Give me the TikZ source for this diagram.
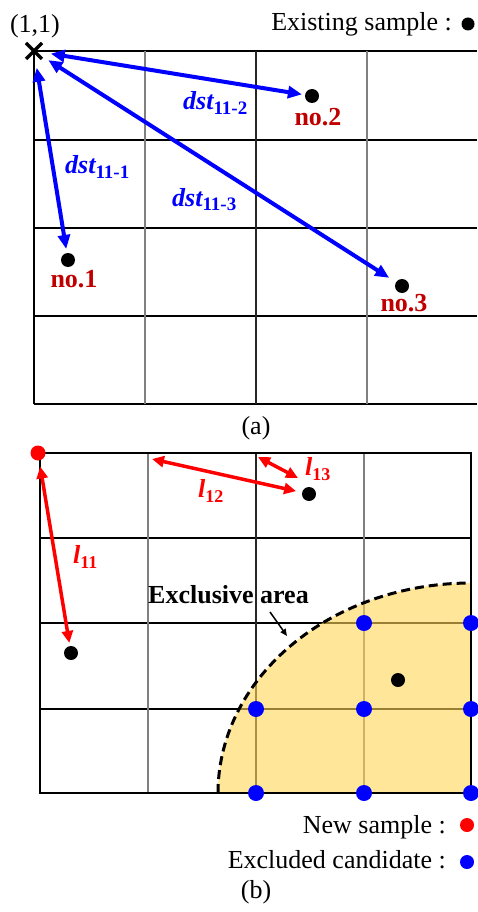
\documentclass[tikz,border=0pt]{standalone}
\usepackage{fontspec}
\setmainfont{Liberation Serif}
\usetikzlibrary{arrows.meta}
\definecolor{darkred}{RGB}{192,0,0}
\definecolor{areafill}{RGB}{255,213,85}
\definecolor{gridgrey}{RGB}{128,128,128}
\newcommand{\dstlabel}[1]{{\bfseries\itshape dst}\raisebox{-5pt}{\fontsize{19}{20}\selectfont\bfseries #1}}
\newcommand{\llabel}[1]{{\bfseries\itshape l}\raisebox{-5pt}{\fontsize{18}{20}\selectfont\bfseries #1}}
\begin{document}
\begin{tikzpicture}[x=1pt,y=-1pt,
  txt/.style={font=\fontsize{26}{30}\selectfont, inner sep=0pt},
  blk/.style={circle, fill=black, inner sep=0pt, minimum size=14pt},
  bdot/.style={circle, fill=blue, inner sep=0pt, minimum size=16pt},
  rdot/.style={circle, fill=red, inner sep=0pt, minimum size=15pt},
  thickgrid/.style={line width=2.5pt, black},
  midgrid/.style={line width=2pt, black!85},
  thingrid/.style={line width=2pt, gridgrey},
  bluearrow/.style={blue, line width=4pt, {Triangle[length=14pt,width=12pt]}-{Triangle[length=14pt,width=12pt]}},
  redarrow/.style={red, line width=3.5pt, {Triangle[length=12pt,width=11pt]}-{Triangle[length=12pt,width=11pt]}},
  dstlab/.style={txt, blue, anchor=base west},
  llab/.style={txt, red, anchor=base west},
  nolab/.style={txt, darkred, font=\fontsize{26}{30}\selectfont\bfseries, anchor=base},
]
\useasboundingbox (0,0) rectangle (477,912);
% ---------------- panel (a) ----------------
\foreach \y in {51,140,228,316,404} \draw[thickgrid] (34,\y) -- (477,\y);
\foreach \x in {145,367} \draw[thingrid] (\x,51) -- (\x,404);
\draw[midgrid] (256,51) -- (256,404);
\draw[thickgrid] (34,51) -- (34,404);
% X mark
\coordinate (o11) at (34,51);
\draw[line width=3.5pt] (26,43) -- (42,59) (26,59) -- (42,43);
\node[txt] (lab11) at (35,26) {(1,1)};
% samples
\node[blk] (a1) at (68,260) {};
\node[blk] (a2) at (312,96) {};
\node[blk] (a3) at (402,286) {};
\node[nolab] (n1) at (74,287) {no.1};
\node[nolab] (n2) at (318,126) {no.2};
\node[nolab] (n3) at (404,311) {no.3};
\draw[bluearrow, shorten <=17pt, shorten >=3pt] (o11) -- (a2);
\draw[bluearrow, shorten <=17pt, shorten >=4pt] (o11) -- (a1);
\draw[bluearrow, shorten <=17pt, shorten >=8pt] (o11) -- (a3);
\node[dstlab] (d2) at (183,110) {\dstlabel{11-2}};
\node[dstlab] (d1) at (65,174) {\dstlabel{11-1}};
\node[dstlab] (d3) at (172,206) {\dstlabel{11-3}};
% legend
\node[txt, anchor=base east] (exist) at (452,31) {Existing sample :};
\node[blk, minimum size=13pt] (existdot) at (468,24) {};
\node[txt] (capa) at (256,428) {(a)};
% ---------------- panel (b) ----------------
\foreach \y in {453,538,623,709,793} \draw[thickgrid] (40,\y) -- (471,\y);
\foreach \x in {148,364} \draw[thingrid] (\x,453) -- (\x,793);
\draw[midgrid] (256,453) -- (256,793);
% exclusive area
\fill[areafill, opacity=0.6] plot[domain=180:270, samples=80] ({471+253*cos(\x)},{793+210*sin(\x)}) -- (471,793) -- cycle;
\draw[thickgrid] (40,453) rectangle (471,793);
\draw[line width=3pt, dash pattern=on 9pt off 5pt] plot[domain=180:270, samples=80] ({471+253*cos(\x)},{793+210*sin(\x)});
\node[txt, font=\fontsize{26}{30}\selectfont\bfseries, anchor=base west] (excl) at (148,603) {Exclusive area};
\coordinate (exa) at (270,612);
\coordinate (exb) at (287,636);
\draw[line width=1.5pt, -{Triangle[length=7pt,width=6pt]}] (exa) -- (exb);
% samples
\node[blk] (b1) at (71,653) {};
\node[blk] (b2) at (309,494) {};
\node[blk] (b3) at (398,680) {};
% excluded candidates
\foreach \p/\n in {{(364,623)}/c1,{(471,623)}/c2,{(256,709)}/c3,{(364,709)}/c4,{(471,709)}/c5,{(256,793)}/c6,{(364,793)}/c7,{(471,793)}/c8}
  \node[bdot] (\n) at \p {};
% new sample
\node[rdot] (new) at (38,453) {};
\coordinate (l12s) at (152,459);
\coordinate (l13s) at (258,457);
\coordinate (l13e) at (298,478);
\draw[redarrow, shorten <=6pt, shorten >=3pt] (new) -- (b1);
\draw[redarrow, shorten >=6pt] (l12s) -- (b2);
\draw[redarrow] (l13s) -- (l13e);
\node[llab] (t11) at (73,563) {\llabel{11}};
\node[llab] (t12) at (198,497) {\llabel{12}};
\node[llab] (t13) at (305,475) {\llabel{13}};
% legend
\node[txt, anchor=base east] (newlab) at (446,833) {New sample :};
\node[rdot, minimum size=14pt] (newdot) at (467,825) {};
\node[txt, anchor=base east] (exlab) at (446,868) {Excluded candidate :};
\node[bdot, minimum size=14pt] (exdot) at (467,862) {};
\node[txt] (capb) at (256,892) {(b)};
\end{tikzpicture}
\end{document}
